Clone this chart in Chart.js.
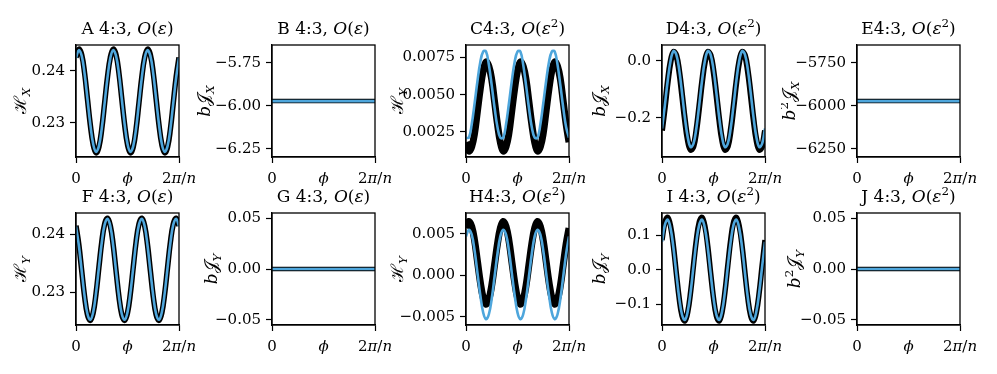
<!DOCTYPE html>
<html>
<head>
<meta charset="utf-8">
<script src="https://cdn.jsdelivr.net/npm/chart.js@4.4.1/dist/chart.umd.min.js"></script>
<style>
    body { margin: 0; background: #ffffff; }
    #wrap { position: relative; width: 997px; height: 374px; overflow: hidden; background: #ffffff; }
    #wrap canvas { position: absolute; }
</style>
</head>
<body>
<div id="wrap"></div>
<script>
// phase grid, 0 .. 2pi/n
const phi = [0, 0.0278, 0.0556, 0.0833, 0.1111, 0.1389, 0.1667, 0.1944, 0.2222, 0.25, 0.2778, 0.3056,
    0.3333, 0.3611, 0.3889, 0.4167, 0.4444, 0.4722, 0.5, 0.5278, 0.5556, 0.5833, 0.6111, 0.6389,
    0.6667, 0.6944, 0.7222, 0.75, 0.7778, 0.8056, 0.8333, 0.8611, 0.8889, 0.9167, 0.9444, 0.9722, 1];
const flatPhi = [0, 1];

const xTickValues = [0, 1];

// A  H_X, O(eps)
const hxEps1Num = [0.2426, 0.2442, 0.2431, 0.2396, 0.2346, 0.2296, 0.2258, 0.2242, 0.2253, 0.2288, 0.2338, 0.2388,
    0.2426, 0.2442, 0.2431, 0.2396, 0.2346, 0.2296, 0.2258, 0.2242, 0.2253, 0.2288, 0.2338, 0.2388,
    0.2426, 0.2442, 0.2431, 0.2396, 0.2346, 0.2296, 0.2258, 0.2242, 0.2253, 0.2288, 0.2338, 0.2388, 0.2426];
const hxEps1Th = [0.2425, 0.2440, 0.2429, 0.2395, 0.2346, 0.2297, 0.2259, 0.2244, 0.2255, 0.2289, 0.2338, 0.2387,
    0.2425, 0.2440, 0.2429, 0.2395, 0.2346, 0.2297, 0.2259, 0.2244, 0.2255, 0.2289, 0.2338, 0.2387,
    0.2425, 0.2440, 0.2429, 0.2395, 0.2346, 0.2297, 0.2259, 0.2244, 0.2255, 0.2289, 0.2338, 0.2387, 0.2425];
const hxTicks = [0.23, 0.24];
const hxTickLabels = ['0.23', '0.24'];

// B  bJ_X, O(eps)
const jxEps1Num = [-5.973, -5.973];
const jxEps1Th = [-5.973, -5.973];
const jxTicks = [-6.25, -6.00, -5.75];
const jxTickLabels = ['\u22126.25', '\u22126.00', '\u22125.75'];

// C  H_Y, O(eps^2)
const hyEps2Num = [0.0018, 0.0012, 0.0015, 0.0024, 0.0039, 0.0054, 0.0066, 0.0072, 0.0069, 0.0060, 0.0045, 0.0030,
    0.0018, 0.0012, 0.0015, 0.0024, 0.0039, 0.0054, 0.0066, 0.0072, 0.0069, 0.0060, 0.0045, 0.0030,
    0.0018, 0.0012, 0.0015, 0.0024, 0.0039, 0.0054, 0.0066, 0.0072, 0.0069, 0.0060, 0.0045, 0.0030, 0.0018];
const hyEps2Th = [0.0021, 0.0021, 0.0030, 0.0044, 0.0059, 0.0072, 0.0079, 0.0079, 0.0070, 0.0056, 0.0041, 0.0028,
    0.0021, 0.0021, 0.0030, 0.0044, 0.0059, 0.0072, 0.0079, 0.0079, 0.0070, 0.0056, 0.0041, 0.0028,
    0.0021, 0.0021, 0.0030, 0.0044, 0.0059, 0.0072, 0.0079, 0.0079, 0.0070, 0.0056, 0.0041, 0.0028, 0.0021];
const hyCTicks = [0.0025, 0.0050, 0.0075];
const hyCTickLabels = ['0.0025', '0.0050', '0.0075'];

// D  bJ_X, O(eps^2)
const jxEps2Num = [-0.244, -0.162, -0.074, -0.003, 0.031, 0.019, -0.036, -0.118, -0.206, -0.277, -0.311, -0.299,
    -0.244, -0.162, -0.074, -0.003, 0.031, 0.019, -0.036, -0.118, -0.206, -0.277, -0.311, -0.299,
    -0.244, -0.162, -0.074, -0.003, 0.031, 0.019, -0.036, -0.118, -0.206, -0.277, -0.311, -0.299, -0.244];
const jxEps2Th = [-0.237, -0.156, -0.069, 0.000, 0.034, 0.022, -0.031, -0.112, -0.199, -0.268, -0.302, -0.290,
    -0.237, -0.156, -0.069, 0.000, 0.034, 0.022, -0.031, -0.112, -0.199, -0.268, -0.302, -0.290,
    -0.237, -0.156, -0.069, 0.000, 0.034, 0.022, -0.031, -0.112, -0.199, -0.268, -0.302, -0.290, -0.237];
const jxDTicks = [-0.2, 0.0];
const jxDTickLabels = ['\u22120.2', '0.0'];

// E  b^2 J_X, O(eps^2)
const j2xEps2Num = [-5973, -5973];
const j2xEps2Th = [-5973, -5973];
const j2xTicks = [-6250, -6000, -5750];
const j2xTickLabels = ['\u22126250', '\u22126000', '\u22125750'];

// F  H_Y, O(eps)
const hyEps1Num = [0.2415, 0.2382, 0.2337, 0.2293, 0.2262, 0.2252, 0.2265, 0.2298, 0.2343, 0.2387, 0.2418, 0.2428,
    0.2415, 0.2382, 0.2337, 0.2293, 0.2262, 0.2252, 0.2265, 0.2298, 0.2343, 0.2387, 0.2418, 0.2428,
    0.2415, 0.2382, 0.2337, 0.2293, 0.2262, 0.2252, 0.2265, 0.2298, 0.2343, 0.2387, 0.2418, 0.2428, 0.2415];
const hyEps1Th = [0.2414, 0.2381, 0.2337, 0.2294, 0.2263, 0.2253, 0.2266, 0.2299, 0.2343, 0.2386, 0.2417, 0.2427,
    0.2414, 0.2381, 0.2337, 0.2294, 0.2263, 0.2253, 0.2266, 0.2299, 0.2343, 0.2386, 0.2417, 0.2427,
    0.2414, 0.2381, 0.2337, 0.2294, 0.2263, 0.2253, 0.2266, 0.2299, 0.2343, 0.2386, 0.2417, 0.2427, 0.2414];

// G  bJ_Y, O(eps)
const jyEps1Num = [0, 0];
const jyEps1Th = [0, 0];
const zeroTicks = [-0.05, 0, 0.05];
const zeroTickLabels = ['\u22120.05', '0.00', '0.05'];

// H  H_Y, O(eps^2)
const hyHNum = [0.0057, 0.0065, 0.0059, 0.0042, 0.0017, -0.0008, -0.0027, -0.0035, -0.0029, -0.0012, 0.0013, 0.0038,
    0.0057, 0.0065, 0.0059, 0.0042, 0.0017, -0.0008, -0.0027, -0.0035, -0.0029, -0.0012, 0.0013, 0.0038,
    0.0057, 0.0065, 0.0059, 0.0042, 0.0017, -0.0008, -0.0027, -0.0035, -0.0029, -0.0012, 0.0013, 0.0038, 0.0057];
const hyHTh = [0.0047, 0.0055, 0.0049, 0.0030, 0.0003, -0.0024, -0.0045, -0.0053, -0.0047, -0.0028, -0.0001, 0.0026,
    0.0047, 0.0055, 0.0049, 0.0030, 0.0003, -0.0024, -0.0045, -0.0053, -0.0047, -0.0028, -0.0001, 0.0026,
    0.0047, 0.0055, 0.0049, 0.0030, 0.0003, -0.0024, -0.0045, -0.0053, -0.0047, -0.0028, -0.0001, 0.0026, 0.0047];
const hyHTicks = [-0.005, 0, 0.005];
const hyHTickLabels = ['\u22120.005', '0.000', '0.005'];

// I  bJ_Y, O(eps^2)
const jyEps2Num = [0.086, 0.137, 0.152, 0.126, 0.068, -0.009, -0.082, -0.133, -0.148, -0.122, -0.064, 0.013,
    0.086, 0.137, 0.152, 0.126, 0.068, -0.009, -0.082, -0.133, -0.148, -0.122, -0.064, 0.013,
    0.086, 0.137, 0.152, 0.126, 0.068, -0.009, -0.082, -0.133, -0.148, -0.122, -0.064, 0.013, 0.086];
const jyEps2Th = [0.081, 0.130, 0.145, 0.120, 0.064, -0.010, -0.081, -0.130, -0.145, -0.120, -0.064, 0.010,
    0.081, 0.130, 0.145, 0.120, 0.064, -0.010, -0.081, -0.130, -0.145, -0.120, -0.064, 0.010,
    0.081, 0.130, 0.145, 0.120, 0.064, -0.010, -0.081, -0.130, -0.145, -0.120, -0.064, 0.010, 0.081];
const jyITicks = [-0.1, 0, 0.1];
const jyITickLabels = ['\u22120.1', '0.0', '0.1'];

// J  b^2 J_Y, O(eps^2)
const j2yEps2Num = [0, 0];
const j2yEps2Th = [0, 0];

const SERIF = '"DejaVu Serif", "Liberation Serif", serif';
const BLUE = '#4ea6dc';

function fontFor(style, size) {
    const s = (style === 'sub' || style === 'sup') ? size * 0.7 : size;
    const it = (style === 'i' || style === 'sub') ? 'italic ' : '';
    return it + s + 'px ' + SERIF;
}

// draw text made of [text, style] parts, centred on x
function drawRich(ctx, parts, x, y, size) {
    let total = 0;
    parts.forEach(p => { ctx.font = fontFor(p[1], size); total += ctx.measureText(p[0]).width; });
    let cx = x - total / 2;
    ctx.textAlign = 'left';
    ctx.textBaseline = 'alphabetic';
    parts.forEach(p => {
        ctx.font = fontFor(p[1], size);
        let dy = 0;
        if (p[1] === 'sub') dy = size * 0.25;
        if (p[1] === 'sup') dy = -size * 0.4;
        ctx.fillText(p[0], cx, y + dy);
        cx += ctx.measureText(p[0]).width;
    });
}

function panelPlugin(title, ylabel, yOff) {
    return {
        id: 'panel',
        afterDraw(chart) {
            const ctx = chart.ctx;
            const a = chart.chartArea;
            ctx.save();
            ctx.strokeStyle = '#000';
            ctx.lineWidth = 1.3;
            ctx.strokeRect(a.left, a.top, a.right - a.left, a.bottom - a.top);
            ctx.fillStyle = '#000';
            drawRich(ctx, title, (a.left + a.right) / 2, a.top - 11, 17);
            drawRich(ctx, [['0', '']], a.left, a.bottom + 26, 15);
            drawRich(ctx, [['\u03d5', 'i']], (a.left + a.right) / 2, a.bottom + 26, 15);
            drawRich(ctx, [['2', ''], ['\u03c0', 'i'], ['/', ''], ['n', 'i']], a.right, a.bottom + 26, 15);
            ctx.translate(a.left - yOff, (a.top + a.bottom) / 2);
            ctx.rotate(-Math.PI / 2);
            drawRich(ctx, ylabel, 0, 0, 17);
            ctx.restore();
        }
    };
}

function makePanel(left, top, xs, black, blue, blackWidth, yMin, yMax, ticks, tickLabels, title, ylabel, yOff) {
    const canvas = document.createElement('canvas');
    canvas.width = 203;
    canvas.height = 187;
    canvas.style.left = left + 'px';
    canvas.style.top = top + 'px';
    document.getElementById('wrap').appendChild(canvas);

    return new Chart(canvas, {
        type: 'line',
        data: {
            datasets: [{
                label: 'theory',
                data: xs.map((p, i) => ({ x: p, y: blue[i] })),
                borderColor: BLUE,
                borderWidth: 2.6,
                fill: false
            }, {
                label: 'numerics',
                data: xs.map((p, i) => ({ x: p, y: black[i] })),
                borderColor: '#000000',
                borderWidth: blackWidth,
                fill: false
            }]
        },
        options: {
            responsive: false,
            animation: false,
            devicePixelRatio: 1,
            layout: { padding: { top: 45, right: 24, bottom: 0, left: 0 } },
            plugins: {
                legend: { display: false },
                tooltip: { enabled: false }
            },
            elements: {
                line: { tension: 0.4, capBezierPoints: true },
                point: { radius: 0 }
            },
            scales: {
                x: {
                    type: 'linear',
                    min: 0,
                    max: 1,
                    afterBuildTicks: s => { s.ticks = xTickValues.map(v => ({ value: v })); },
                    afterFit: s => { s.height = 30; },
                    grid: { drawOnChartArea: false, drawTicks: true, tickLength: 6, tickColor: '#000', tickWidth: 1.2 },
                    border: { display: true, color: '#000', width: 1.3 },
                    ticks: { color: 'rgba(0,0,0,0)', maxRotation: 0, autoSkip: false }
                },
                y: {
                    type: 'linear',
                    min: yMin,
                    max: yMax,
                    afterBuildTicks: s => { s.ticks = ticks.map(v => ({ value: v })); },
                    afterFit: s => { s.width = 76; },
                    grid: { drawOnChartArea: false, drawTicks: true, tickLength: 6, tickColor: '#000', tickWidth: 1.2 },
                    border: { display: true, color: '#000', width: 1.3 },
                    ticks: {
                        color: '#000',
                        padding: 5,
                        autoSkip: false,
                        font: { family: SERIF, size: 15 },
                        callback: (v, i) => tickLabels[i]
                    }
                }
            }
        },
        plugins: [panelPlugin(title, ylabel, yOff)]
    });
}

const tEps1 = k => [[k + ' 4:3, ', ''], ['O', 'i'], ['(', ''], ['\u03b5', 'i'], [')', '']];
// some panel letters sit tight against "4:3" in the original
const tEps2 = (k, gap) => [[k + gap + '4:3, ', ''], ['O', 'i'], ['(', ''], ['\u03b5', 'i'], ['2', 'sup'], [')', '']];
const labH = s => [['\u210b', ''], [s, 'sub']];
const labJ = s => [['b', 'i'], ['\ud835\udca5', ''], [s, 'sub']];
const labJ2 = s => [['b', 'i'], ['2', 'sup'], ['\ud835\udca5', ''], [s, 'sub']];

const cols = [0, 196, 390, 586, 781];
const rowTop = 0;
const rowBottom = 168;

makePanel(cols[0], rowTop, phi, hxEps1Num, hxEps1Th, 5.5, 0.2234, 0.2450, hxTicks, hxTickLabels, tEps1('A'), labH('X'), 50);
makePanel(cols[1], rowTop, flatPhi, jxEps1Num, jxEps1Th, 4.5, -6.298, -5.647, jxTicks, jxTickLabels, tEps1('B'), labJ('X'), 62);
makePanel(cols[2], rowTop, phi, hyEps2Num, hyEps2Th, 7, 0.0008, 0.00834, hyCTicks, hyCTickLabels, tEps2('C', ''), labH('Y'), 63);
makePanel(cols[3], rowTop, phi, jxEps2Num, jxEps2Th, 6, -0.3365, 0.0553, jxDTicks, jxDTickLabels, tEps2('D', ''), labJ('X'), 57);
makePanel(cols[4], rowTop, flatPhi, j2xEps2Num, j2xEps2Th, 4.5, -6298, -5647, j2xTicks, j2xTickLabels, tEps2('E', ''), labJ2('X'), 62);

makePanel(cols[0], rowBottom, phi, hyEps1Num, hyEps1Th, 5.5, 0.2244, 0.2437, hxTicks, hxTickLabels, tEps1('F'), labH('Y'), 50);
makePanel(cols[1], rowBottom, flatPhi, jyEps1Num, jyEps1Th, 4.5, -0.055, 0.055, zeroTicks, zeroTickLabels, tEps1('G'), labJ('Y'), 55);
makePanel(cols[2], rowBottom, phi, hyHNum, hyHTh, 7, -0.0060, 0.00752, hyHTicks, hyHTickLabels, tEps2('H', ''), labH('Y'), 63);
makePanel(cols[3], rowBottom, phi, jyEps2Num, jyEps2Th, 5.5, -0.1597, 0.1645, jyITicks, jyITickLabels, tEps2('I', ' '), labJ('Y'), 57);
makePanel(cols[4], rowBottom, flatPhi, j2yEps2Num, j2yEps2Th, 4.5, -0.055, 0.055, zeroTicks, zeroTickLabels, tEps2('J', ' '), labJ2('Y'), 57);
</script>
</body>
</html>
